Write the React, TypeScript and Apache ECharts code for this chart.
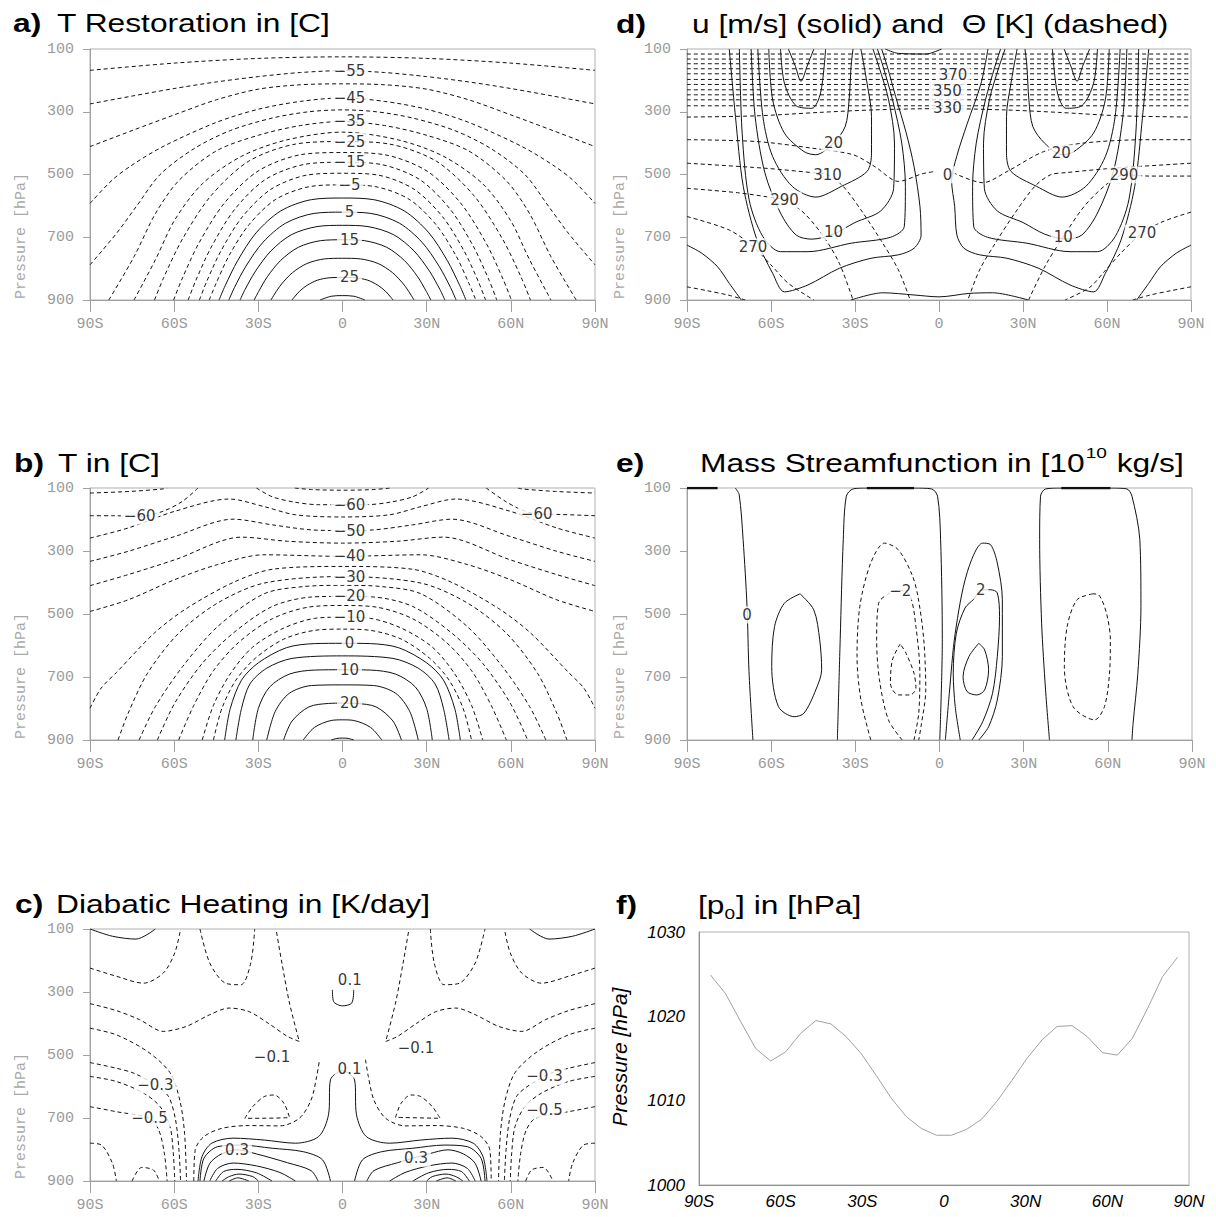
import React, { useEffect, useRef } from "react";
import * as echarts from "echarts";

type Pts = number[][];
type Contour = [number, Pts];
type Lbl = [string, number, number];

// ---------------- a) T restoration (value, [lat, hPa] points) ----------------
const A_CONTOURS: Contour[] = [
  [-60, [[-90,168],[-60,145],[-30,130],[0,125],[30,130],[60,145],[90,168]]],
  [-55, [[-90,275],[-75,250],[-60,226],[-45,205],[-30,188],[-15,175],[0,169],[15,175],[30,188],[45,205],[60,226],[75,250],[90,275]]],
  [-50, [[-90,411],[-75,360],[-60,310],[-45,262],[-30,228],[-15,214],[0,211],[15,214],[30,228],[45,262],[60,310],[75,360],[90,411]]],
  [-45, [[-90,592],[-82,517],[-75,470],[-64,411],[-45,334],[-30,292],[-15,267],[0,256],[15,267],[30,292],[45,334],[64,411],[75,470],[82,517],[90,592]]],
  [-40, [[-90,788],[-80.5,687],[-73.5,602],[-65,500],[-53,418],[-40,360],[-25,320],[-12,300],[0,294],[12,300],[25,320],[40,360],[53,418],[65,500],[73.5,602],[80.5,687],[90,788]]],
  [-35, [[-83.3,900],[-74.3,762],[-66.7,625],[-58.4,520],[-45,425],[-30,375],[-15,344],[0,331],[15,344],[30,375],[45,425],[58.4,520],[66.7,625],[74.3,762],[83.3,900]]],
  [-30, [[-74.3,900],[-66.7,772],[-59.8,645],[-50,530],[-36,442],[-20,390],[0,365],[20,390],[36,442],[50,530],[59.8,645],[66.7,772],[74.3,900]]],
  [-25, [[-67,900],[-63.7,828],[-57,705],[-46.9,568],[-33.5,458],[-16.75,403],[0,395],[16.75,403],[33.5,458],[46.9,568],[57,705],[63.7,828],[67,900]]],
  [-20, [[-60.2,900],[-57.2,833],[-51.2,719],[-42.1,591],[-30.1,489],[-15,437],[0,430],[15,437],[30.1,489],[42.1,591],[51.2,719],[57.2,833],[60.2,900]]],
  [-15, [[-55,900],[-52.25,837],[-46.75,731],[-38.5,612],[-27.5,516],[-13.75,468],[0,461],[13.75,468],[27.5,516],[38.5,612],[46.75,731],[52.25,837],[55,900]]],
  [-10, [[-51,900],[-48.45,842],[-43.35,744],[-35.7,635],[-25.5,547],[-12.75,502],[0,496],[12.75,502],[25.5,547],[35.7,635],[43.35,744],[48.45,842],[51,900]]],
  [-5, [[-47.5,900],[-45.1,848],[-40.4,758],[-33.25,659],[-23.75,579],[-11.9,539],[0,533],[11.9,539],[23.75,579],[33.25,659],[40.4,758],[45.1,848],[47.5,900]]],
  [0, [[-44,900],[-41.8,854],[-37.4,775],[-30.8,686],[-22,616],[-11,580],[0,575],[11,580],[22,616],[30.8,686],[37.4,775],[41.8,854],[44,900]]],
  [5, [[-40.5,900],[-38.5,860],[-34.4,792],[-28.35,716],[-20.25,655],[-10.1,624],[0,620],[10.1,624],[20.25,655],[28.35,716],[34.4,792],[38.5,860],[40.5,900]]],
  [10, [[-36.5,900],[-34.7,866],[-31,808],[-25.55,744],[-18.25,692],[-9.1,666],[0,662],[9.1,666],[18.25,692],[25.55,744],[31,808],[34.7,866],[36.5,900]]],
  [15, [[-31.5,900],[-29.9,873],[-26.8,826],[-22.05,774],[-15.75,732],[-7.9,711],[0,708],[7.9,711],[15.75,732],[22.05,774],[26.8,826],[29.9,873],[31.5,900]]],
  [20, [[-25.5,900],[-24.2,881],[-21.7,849],[-17.85,813],[-12.75,784],[-6.4,769],[0,767],[6.4,769],[12.75,784],[17.85,813],[21.7,849],[24.2,881],[25.5,900]]],
  [25, [[-18,900],[-17.1,890],[-15.3,872],[-12.6,853],[-9,837],[-4.5,829],[0,828],[4.5,829],[9,837],[12.6,853],[15.3,872],[17.1,890],[18,900]]],
  [30, [[-8,900],[-4,888],[0,886],[4,888],[8,900]]],
];
const A_LABELS: Lbl[] = [
  ["−55",2.5,170],["−45",2.5,256],["−35",2.5,331],["−25",2.5,395],["−15",2.5,461],
  ["−5",2.5,533],["5",2.5,620],["15",2.5,708],["25",2.5,828],
];

// ---------------- b) T ----------------
const B_CONTOURS: Contour[] = [
  [-65, [[-17,100],[-11,105],[0,107],[11,105],[17,100]]],
  [-65, [[-90,116],[-76,111],[-64,103],[-62.5,100]]],
  [-65, [[62.5,100],[64,103],[76,111],[90,116]]],
  [-60, [[-90,188],[-82,188],[-72,190],[-64,174],[-57,142],[-51.5,100]]],
  [-60, [[51.2,100],[58,142],[64,170],[69,182],[77.5,184],[90,188]]],
  [-60, [[-30.7,100],[-25,128],[-17,145],[-8.5,153],[0,153],[8.5,153],[17,145],[25,128],[30.7,100]]],
  [-55, [[-90,259],[-76.4,227],[-59.8,174],[-40.4,135],[-28,159],[-16.8,185],[0,192],[16.8,185],[28,159],[40.4,135],[59.8,174],[76.4,227],[90,259]]],
  [-50, [[-90,333],[-76.4,301],[-59.8,254],[-39,199],[-25,217],[-11,233],[0,235],[11,233],[25,217],[39,199],[59.8,254],[76.4,301],[90,333]]],
  [-45, [[-90,410],[-76.4,375],[-59.8,328],[-36,256],[-19.6,269],[0,275],[19.6,269],[36,256],[59.8,328],[76.4,375],[90,410]]],
  [-40, [[-90,492],[-76.4,455],[-59.8,391],[-44.5,343],[-28,312],[0,317],[28,312],[44.5,343],[59.8,391],[76.4,455],[90,492]]],
  [-35, [[-90,799],[-86,735],[-80.5,685],[-67,560],[-55.7,483],[-39,400],[-25,358],[0,349],[25,358],[39,400],[55.7,483],[67,560],[80.5,685],[86,735],[90,799]]],
  [-30, [[-80,900],[-76.4,815],[-69.5,688],[-58.4,561],[-44.5,465],[-28,402],[0,381],[28,402],[44.5,465],[58.4,561],[69.5,688],[76.4,815],[80,900]]],
  [-25, [[-72.5,900],[-66.7,794],[-57,667],[-44.5,540],[-28,436],[-14,413],[0,409],[14,413],[28,436],[44.5,540],[57,667],[66.7,794],[72.5,900]]],
  [-20, [[-66,900],[-59.8,783],[-50,657],[-39,561],[-25,476],[-11,446],[0,444],[11,446],[25,476],[39,561],[50,657],[59.8,783],[66,900]]],
  [-15, [[-58.4,900],[-53,790],[-46,680],[-37,590],[-25,515],[-12,478],[0,473],[12,478],[25,515],[37,590],[46,680],[53,790],[58.4,900]]],
  [-10, [[-50,900],[-46,790],[-40,690],[-32,605],[-21,545],[-10,514],[0,510],[10,514],[21,545],[32,605],[40,690],[46,790],[50,900]]],
  [-5, [[-46,900],[-43,800],[-38,710],[-31,640],[-21,580],[-10,552],[0,548],[10,552],[21,580],[31,640],[38,710],[43,800],[46,900]]],
  [0, [[-42,900],[-40,800],[-36,710],[-30,655],[-20,607],[-10,594],[0,593],[10,594],[20,607],[30,655],[36,710],[40,800],[42,900]]],
  [5, [[-38,900],[-36,800],[-33,722],[-27,672],[-18,641],[0,633],[18,641],[27,672],[33,722],[36,800],[38,900]]],
  [10, [[-32,900],[-30,800],[-26,732],[-19,691],[-10,678],[0,677],[10,678],[19,691],[26,732],[30,800],[32,900]]],
  [15, [[-27,900],[-24,810],[-19,752],[-11,727],[0,725],[11,727],[19,752],[24,810],[27,900]]],
  [20, [[-21,900],[-18,840],[-12,795],[-5,784],[0,783],[5,784],[12,795],[18,840],[21,900]]],
  [25, [[-14,900],[-10,860],[-4,838],[0,836],[4,838],[10,860],[14,900]]],
  [30, [[-4,900],[-2,895],[0,894],[2,895],[4,900]]],
];
const B_LABELS: Lbl[] = [
  ["−60",2.5,153],["−50",2.5,235],["−40",2.5,317],["−30",2.5,381],["−20",2.5,444],
  ["−10",2.5,510],["0",2.5,593],["10",2.5,677],["20",2.5,783],["−60",-72.3,190],["−60",69.2,182],
];

// ---------------- c) Diabatic heating ----------------
const C_SOLID: Pts[] = [
  [[-90,100],[-82,123],[-73.6,132],[-66.7,100]],
  [[66.7,100],[73.6,132],[82,123],[90,100]],
  [[-3.6,293],[-3.2,330],[0,344],[3.3,335],[4,293]],
  [[-51.5,900],[-50.1,823],[-46.6,780],[-39,764],[-27.9,770],[-16.8,780],[-8.5,759],[-5,690],[-4.3,579],[0,550],[4.3,579],[5,690],[8.5,759],[16.8,780],[27.9,770],[39,764],[46.6,780],[50.1,823],[51.5,900]],
  [[-50.8,900],[-49.4,828],[-44.5,791],[-36.2,786],[-25.1,796],[-14,807],[-7.1,833],[-4.3,900]],
  [[4.3,900],[7.1,833],[14,807],[25.1,796],[36.2,786],[44.5,791],[49.4,828],[50.8,900]],
  [[-49.4,900],[-47.3,844],[-43.1,814],[-37.6,801],[-30.7,814],[-19.6,842],[-11.2,867],[-8.7,900]],
  [[8.7,900],[11.2,867],[19.6,842],[30.7,814],[37.6,801],[43.1,814],[47.3,844],[49.4,900]],
  [[-47.3,900],[-44.5,860],[-39,843],[-30.7,852],[-22.3,873],[-16.8,900]],
  [[16.8,900],[22.3,873],[30.7,852],[39,843],[44.5,860],[47.3,900]],
  [[-45.2,900],[-42.4,870],[-37.6,863],[-30.7,874],[-25.1,900]],
  [[25.1,900],[30.7,874],[37.6,863],[42.4,870],[45.2,900]],
  [[-42.9,900],[-40.4,886],[-36.9,878],[-32,886],[-30,900]],
  [[30,900],[32,886],[36.9,878],[40.4,886],[42.9,900]],
  [[-40.4,900],[-37.3,890],[-33.4,900]],
  [[33.4,900],[37.3,890],[40.4,900]],
];
const C_DASHED: Pts[] = [
  [[-90,224],[-80.6,250],[-70.9,272],[-63.9,240],[-59.8,176],[-57.7,100]],
  [[90,224],[80.6,250],[70.9,272],[63.9,240],[59.8,176],[57.7,100]],
  [[-50.8,100],[-47.3,208],[-41.7,272],[-36.2,277],[-32.7,208],[-31.3,100]],
  [[31.3,100],[32.7,208],[36.2,277],[41.7,272],[47.3,208],[50.8,100]],
  [[-90,337],[-80.6,359],[-72.3,388],[-63.9,425],[-55.6,409],[-47.3,372],[-40.4,351],[-33.4,362],[-26.5,399],[-19.6,441],[-15.4,457],[-18.9,335],[-21.6,208],[-23.7,100]],
  [[90,337],[80.6,359],[72.3,388],[63.9,425],[55.6,409],[47.3,372],[40.4,351],[33.4,362],[26.5,399],[19.6,441],[15.4,457],[18.9,335],[21.6,208],[23.7,100]],
  [[-90,415],[-80.6,436],[-69.5,489],[-61.5,556],[-58,643],[-56.3,748],[-55.6,900]],
  [[90,415],[80.6,436],[69.5,489],[61.5,556],[58,643],[56.3,748],[55.6,900]],
  [[-90,524],[-80.6,542],[-74.3,558],[-66.7,595],[-62,632],[-59.5,706],[-58.3,801],[-57.7,900]],
  [[90,524],[80.6,542],[74.3,558],[66.7,595],[62,632],[59.5,706],[58.3,801],[57.7,900]],
  [[-90,568],[-80.6,584],[-70.9,621],[-65,664],[-61.5,727],[-60.3,812],[-59.8,900]],
  [[90,568],[80.6,584],[70.9,621],[65,664],[61.5,727],[60.3,812],[59.8,900]],
  [[-90,664],[-80.6,680],[-68.8,701],[-65.5,738],[-63.5,812],[-62.5,900]],
  [[90,664],[80.6,680],[68.8,701],[65.5,738],[63.5,812],[62.5,900]],
  [[-90,780],[-85.9,786],[-82,844],[-80.6,900]],
  [[90,780],[85.9,786],[82,844],[80.6,900]],
  [[-75,900],[-71.6,857],[-67.4,865],[-65.3,900]],
  [[65.3,900],[67.4,865],[71.6,857],[75,900]],
  [[-53,900],[-52.5,801],[-49.4,759],[-43.1,733],[-33.4,724],[-22.3,725],[-15.4,701],[-11.2,643],[-9.2,568],[-8.2,515]],
  [[8.2,515],[9.2,568],[11.2,643],[15.4,701],[22.3,725],[33.4,724],[43.1,733],[49.4,759],[52.5,801],[53,900]],
  [[-34.8,701],[-32,664],[-27.9,632],[-24.4,627],[-20.9,653],[-18.9,698],[-34.8,701]],
  [[18.9,698],[20.9,653],[24.4,627],[27.9,632],[32,664],[34.8,701],[18.9,698]],
];
const C_LABELS: Lbl[] = [
  ["0.1",2.6,261],["−0.1",-25.1,505],["−0.1",26.2,478],["0.1",2.5,545],["−0.3",-66.7,595],
  ["−0.3",72,568],["−0.5",-68.8,701],["−0.5",72,674],["0.3",-37.6,801],["0.3",26.2,828],
];

// ---------------- d) u (solid) and theta (dashed) ----------------
const D_THETA: Pts[] = [
  [[-90,116],[90,116]],
  [[-90,132],[90,132]],
  [[-90,147],[90,147]],
  [[-90,163],[90,163]],
  [[-90,179],[90,179]],
  [[-90,197],[90,197]],
  [[-90,213],[90,213]],
  [[-90,230],[90,230]],
  [[-90,246],[90,246]],
  [[-90,262],[90,262]],
  [[-90,281],[90,281]],
  [[-90,317],[-65,313],[-42.6,302],[-22.9,294],[0,290],[22.9,294],[42.6,302],[65,313],[90,317]],
  [[-90,389],[-65,395],[-45.4,416],[-30.7,437],[-22.9,475],[-14.5,522],[-6.1,498],[-1.9,491]],
  [[5,494],[15.6,526],[24.8,488],[37.4,427],[51.4,400],[75,389],[90,389]],
  [[-90,464],[-62.2,480],[-45.4,494],[-39.8,501],[-34.2,538],[-27.1,623],[-20.1,719],[-14.5,804],[-10.3,900]],
  [[90,464],[62.2,480],[45.4,494],[39.8,501],[34.2,538],[27.1,623],[20.1,719],[14.5,804],[10.3,900]],
  [[-90,544],[-72,558],[-60.8,572],[-55.2,581],[-48.2,623],[-41.2,698],[-35.6,783],[-30.7,900]],
  [[90,505],[75,505],[66.1,501],[60,530],[52,600],[45,690],[38,790],[32,900]],
  [[-90,634],[-74.9,677],[-66.4,730],[-59.4,794],[-53.8,847],[-44.7,900]],
  [[90,620],[80,650],[72.5,687],[65,750],[59,810],[53.8,860],[45,900]],
  [[-90,858],[-83,870],[-75,885],[-69.2,900]],
  [[90,858],[83,870],[75,885],[69.2,900]],
];
const D_WIND: Pts[] = [
  [[-74.9,100],[-72.7,315],[-69.9,538],[-65,709],[-59.4,815],[-55.2,874],[-46.8,852],[-35.6,799],[-24.3,767],[-14.5,756],[-8.9,735],[-6.4,693],[-6.8,602],[-8.9,475],[-11.7,368],[-15.5,251],[-18.5,155],[-20.5,100]],
  [[-71.3,100],[-70.3,368],[-67.8,581],[-62.9,698],[-56.6,746],[-46.8,746],[-31.4,719],[-17.3,700],[-12.4,666],[-12,538],[-13.3,400],[-16.6,262],[-20,155],[-22,100]],
  [[-67.1,100],[-65.7,313],[-62.2,494],[-56.6,623],[-51,693],[-45.4,706],[-37.7,690],[-30,653],[-20.8,616],[-16.2,544],[-15.9,400],[-18,262],[-21.5,155],[-23.6,100]],
  [[-64.7,100],[-62.9,315],[-59.4,443],[-52.4,538],[-44,572],[-34.9,538],[-25.7,490],[-24.1,432],[-24.1,315],[-25.7,209],[-27.9,100]],
  [[-60.8,100],[-59.4,262],[-55.2,368],[-48.2,427],[-44,437],[-37.7,400],[-33.5,347],[-32.1,262],[-31.4,155],[-30.7,100]],
  [[-56.6,100],[-55.2,209],[-51,281],[-45.4,289],[-42.3,240],[-40.5,100]],
  [[-53.8,100],[-51.3,155],[-49.3,203],[-47.1,155],[-44.7,100]],
  [[74.9,100],[72.7,315],[69.9,538],[65,709],[59.4,815],[55.2,874],[46.8,852],[35.6,799],[24.3,767],[14.5,756],[8.9,735],[6.4,693],[5.6,602],[4.5,520],[6.4,440],[10,340],[15,210],[17.5,100]],
  [[71.3,100],[70.3,368],[67.8,581],[62.9,698],[56.6,746],[46.8,746],[31.4,719],[17.3,700],[12.4,666],[12,538],[13.3,400],[16.6,262],[20,155],[22,100]],
  [[67.1,100],[65.7,313],[62.2,494],[56.6,623],[51,693],[45.4,706],[37.7,690],[30,653],[20.8,616],[16.2,544],[15.9,400],[18,262],[21.5,155],[23.6,100]],
  [[64.7,100],[62.9,315],[59.4,443],[52.4,538],[44,572],[34.9,538],[25.7,490],[24.1,432],[24.1,315],[25.7,209],[27.9,100]],
  [[60.8,100],[59.4,262],[55.2,368],[48.2,427],[44,437],[37.7,400],[33.5,347],[32.1,262],[31.4,155],[30.7,100]],
  [[56.6,100],[55.2,209],[51,281],[45.4,289],[42.3,240],[40.5,100]],
  [[53.8,100],[51.3,155],[49.3,203],[47.1,155],[44.7,100]],
  [[-90,725],[-84.7,751],[-79.1,794],[-74.9,847],[-70.6,900]],
  [[90,725],[84.7,751],[79.1,794],[74.9,847],[70.6,900]],
  [[-31.4,900],[-20.1,877],[-8.9,884],[0,890],[10.7,879],[19.1,877],[31.8,900]],
  [[-19.2,100],[-14.5,114],[-4.7,116],[0.9,100]],
];
const D_LABELS: Lbl[] = [
  ["370",5,182],["350",3,235],["330",3,288],["20",-37.7,400],["310",-39.8,501],["0",3,501],
  ["290",-55.2,581],["10",-37.7,682],["270",-66.4,730],["20",43.7,432],["290",66.1,501],
  ["10",44.4,698],["270",72.5,687],
];

// ---------------- e) Mass streamfunction ----------------
const E_SOLID: Pts[] = [
  [[-72.8,100],[-71.4,121],[-70,264],[-68.6,477],[-67.9,683],[-66.5,900]],
  [[-49.7,436],[-55.3,466],[-58.8,540],[-59.8,667],[-57.4,794],[-51.8,826],[-48.3,815],[-44.1,741],[-42,677],[-42.7,582],[-44.8,487],[-49.7,436]],
  [[-36.4,900],[-35.4,582],[-34.3,264],[-33.2,126],[-30.8,103],[-25.9,100],[-9.1,100],[-2.8,103],[-0.7,126],[0.4,264],[1,582],[0.1,900]],
  [[2.1,900],[3.5,752],[5.6,561],[9.8,370],[15.4,275],[18.2,280],[20.6,338],[22.4,455],[22.4,635],[20.6,773],[17.5,858],[14,900]],
  [[7.4,900],[5.6,794],[4.9,688],[6,561],[9.1,481],[12.2,453],[14.7,425],[18.2,423],[20.6,433],[21.4,508],[20.6,635],[18.9,752],[15.4,842],[11.6,900]],
  [[14,593],[10.5,635],[8.4,699],[9.8,746],[13.3,757],[16.1,741],[17.5,677],[16.1,614],[14,593]],
  [[39.2,900],[37.8,741],[36.4,529],[35.7,264],[36,126],[37.8,103],[43.4,100],[60.9,100],[66.8,103],[68.6,126],[71.4,264],[71.8,476],[70.7,688],[69,847],[68.6,900]],
];
const E_TOP: Pts[] = [
  [[-90,100],[-79.1,100]],
  [[-25.9,100],[-9.1,100]],
  [[43.4,100],[60.9,100]],
];
const E_DASHED: Pts[] = [
  [[-24.5,900],[-28,773],[-29.4,635],[-28.4,476],[-24.5,338],[-19.6,275],[-14.7,296],[-9.8,375],[-7.7,444],[-5.6,582],[-4.9,741],[-6.6,858],[-7.4,900]],
  [[-13.3,900],[-18.2,836],[-21.4,709],[-22.4,582],[-21.7,466],[-17.5,432],[-14,425],[-10.5,442],[-8.4,540],[-7,688],[-7.4,815],[-9.1,900]],
  [[-14,595],[-16.8,646],[-17.5,720],[-14.7,757],[-10.5,757],[-8.4,736],[-9.1,688],[-11.9,625],[-14,595]],
  [[54.6,436],[49,455],[45.5,540],[44.5,667],[47.6,794],[55.3,836],[58.8,794],[60.6,688],[60.9,582],[59.5,497],[56.7,439],[54.6,436]],
];
const E_LABELS: Lbl[] = [["0",-68.6,503],["−2",-14,428],["2",14.7,425]];

// ---------------- f) surface pressure ----------------
const F_LAT = [-85.76,-80.27,-74.74,-69.21,-63.67,-58.14,-52.6,-47.06,-41.53,-35.99,-30.45,-24.92,-19.38,-13.84,-8.31,-2.77,2.77,8.31,13.84,19.38,24.92,30.45,35.99,41.53,47.06,52.6,58.14,63.67,69.21,74.74,80.27,85.76];
const F_P0 = [1024.9,1022.7,1019.4,1016.2,1014.7,1015.8,1018.0,1019.5,1019.1,1017.6,1015.6,1013.0,1010.3,1008.1,1006.7,1005.9,1005.9,1006.6,1007.8,1009.9,1012.4,1015.0,1017.2,1018.8,1018.9,1017.6,1015.7,1015.4,1017.4,1020.9,1024.7,1027.0];

// ---------------- helpers ----------------
const GREY = "#9a9a9a";
const MONO = "Liberation Mono";
const SANS = "Liberation Sans";

function latLabel(v: number): string {
  return v < 0 ? `${-v}S` : v > 0 ? `${v}N` : "0";
}

function lineSeries(gi: number, pts: Pts, dashed: boolean, width = 1) {
  return {
    type: "line",
    xAxisIndex: gi,
    yAxisIndex: gi,
    data: pts,
    symbol: "none",
    showSymbol: false,
    smooth: 0.3,
    silent: true,
    z: 2,
    lineStyle: { color: "#111", width, type: dashed ? [4, 3] : "solid" },
  };
}

function labelSeries(gi: number, labels: Lbl[]) {
  return {
    type: "scatter",
    xAxisIndex: gi,
    yAxisIndex: gi,
    symbolSize: 1,
    silent: true,
    z: 6,
    itemStyle: { color: "rgba(0,0,0,0)" },
    data: labels.map(([t, x, y]) => ({ name: t, value: [x, y] })),
    label: {
      show: true,
      position: "inside",
      formatter: "{b}",
      color: "#000",
      fontFamily: "DejaVu Sans",
      fontSize: 15,
      backgroundColor: "#fff",
      padding: [1, 3],
    },
  };
}

function measure(text: string, font: string): number {
  try {
    const t = new (echarts.graphic as any).Text({ style: { text, font } });
    return t.getBoundingRect().width;
  } catch (e) {
    return text.length * 12;
  }
}

function buildOption() {
  const gridPos = [
    { left: 90, top: 49, width: 505, height: 251 },
    { left: 90, top: 488, width: 505, height: 252 },
    { left: 90, top: 929, width: 505, height: 252 },
    { left: 687, top: 49, width: 504, height: 251 },
    { left: 687, top: 488, width: 505, height: 252 },
    { left: 699, top: 932, width: 490, height: 253 },
  ];
  const grid = gridPos.map((g) => ({
    ...g,
    show: true,
    borderColor: "#b0b0b0",
    borderWidth: 1,
    backgroundColor: "transparent",
    outerBoundsMode: "none",
  }));

  const xAxis: any[] = [];
  const yAxis: any[] = [];
  for (let gi = 0; gi < 5; gi++) {
    xAxis.push({
      gridIndex: gi,
      type: "value",
      min: -90,
      max: 90,
      interval: 30,
      axisLine: { show: true, onZero: false, lineStyle: { color: "#a0a0a0" } },
      axisTick: { show: true, length: 12, lineStyle: { color: "#a0a0a0" } },
      axisLabel: { formatter: latLabel, color: GREY, fontFamily: MONO, fontSize: 15, margin: 17 },
      splitLine: { show: false },
    });
    yAxis.push({
      gridIndex: gi,
      type: "value",
      inverse: true,
      min: 100,
      max: 900,
      interval: 200,
      axisLine: { show: true, onZero: false, lineStyle: { color: "#a0a0a0" } },
      axisTick: { show: true, length: 7, lineStyle: { color: "#a0a0a0" } },
      axisLabel: { color: GREY, fontFamily: MONO, fontSize: 15, margin: 16 },
      splitLine: { show: false },
    });
  }
  xAxis.push({
    gridIndex: 5,
    type: "value",
    min: -90,
    max: 90,
    interval: 30,
    axisLine: { show: true, onZero: false, lineStyle: { color: "#909090" } },
    axisTick: { show: false },
    axisLabel: { formatter: latLabel, color: "#000", fontFamily: SANS, fontStyle: "italic", fontSize: 17, margin: 8 },
    splitLine: { show: false },
  });
  yAxis.push({
    gridIndex: 5,
    type: "value",
    min: 1000,
    max: 1030,
    interval: 10,
    axisLine: { show: true, onZero: false, lineStyle: { color: "#909090" } },
    axisTick: { show: false },
    axisLabel: {
      formatter: (v: number) => String(v),
      color: "#000",
      fontFamily: SANS,
      fontStyle: "italic",
      fontSize: 17,
      margin: 14,
    },
    splitLine: { show: false },
  });

  const series: any[] = [];
  A_CONTOURS.forEach(([v, pts]) => series.push(lineSeries(0, pts, v < 0)));
  series.push(labelSeries(0, A_LABELS));
  B_CONTOURS.forEach(([v, pts]) => series.push(lineSeries(1, pts, v < 0)));
  series.push(labelSeries(1, B_LABELS));
  C_SOLID.forEach((pts) => series.push(lineSeries(2, pts, false)));
  C_DASHED.forEach((pts) => series.push(lineSeries(2, pts, true)));
  series.push(labelSeries(2, C_LABELS));
  D_THETA.forEach((pts) => series.push(lineSeries(3, pts, true)));
  D_WIND.forEach((pts) => series.push(lineSeries(3, pts, false)));
  series.push(labelSeries(3, D_LABELS));
  E_SOLID.forEach((pts) => series.push(lineSeries(4, pts, false)));
  E_TOP.forEach((pts) => series.push(lineSeries(4, pts, false, 2.5)));
  E_DASHED.forEach((pts) => series.push(lineSeries(4, pts, true)));
  series.push(labelSeries(4, E_LABELS));
  series.push({
    type: "line",
    xAxisIndex: 5,
    yAxisIndex: 5,
    data: F_LAT.map((l, i) => [l, F_P0[i]]),
    symbol: "none",
    showSymbol: false,
    silent: true,
    lineStyle: { color: "#a0a0a0", width: 1 },
  });

  // titles and axis names
  const S = 1.27;
  const reg = `25px "${SANS}"`;
  const bold = `bold 25px "${SANS}"`;
  const small = `15px "${SANS}"`;
  const txt = (x: number, y: number, text: string, font: string, sx = S) => ({
    type: "text",
    x,
    y,
    scaleX: sx,
    silent: true,
    style: {
      text,
      font,
      fill: "#000",
      textAlign: "left",
      textVerticalAlign: "middle",
      align: "left",
      verticalAlign: "middle",
    },
  });
  const g: any[] = [];
  g.push(txt(13, 23, "a)", bold), txt(57, 23, "T Restoration in [C]", reg));
  g.push(txt(14, 463, "b)", bold), txt(58, 463, "T in [C]", reg));
  g.push(txt(15, 904, "c)", bold), txt(56, 904, "Diabatic Heating in [K/day]", reg));
  g.push(txt(616, 24, "d)", bold), txt(692, 24, "u [m/s] (solid) and  Θ [K] (dashed)", reg));
  g.push(txt(616, 463, "e)", bold));
  let x = 700;
  const e1 = "Mass Streamfunction in [10";
  g.push(txt(x, 463, e1, reg));
  x += measure(e1, reg) * S + 1;
  g.push(txt(x, 453, "10", small));
  x += measure("10", small) * S + measure(" ", reg) * S + 1;
  g.push(txt(x, 463, "kg/s]", reg));
  g.push(txt(616, 905, "f)", bold));
  x = 698;
  g.push(txt(x, 905, "[p", reg));
  x += measure("[p", reg) * S;
  g.push(txt(x, 914, "0", small));
  x += measure("0", small) * S + 1;
  g.push(txt(x, 905, "] in [hPa]", reg));

  const yName = (cx: number, cy: number) => ({
    type: "text",
    x: cx,
    y: cy,
    rotation: Math.PI / 2,
    silent: true,
    style: {
      text: "Pressure [hPa]",
      font: `15px "${MONO}"`,
      fill: "#a8a8a8",
      textAlign: "center",
      textVerticalAlign: "middle",
      align: "center",
      verticalAlign: "middle",
    },
  });
  g.push(yName(21, 236), yName(21, 676), yName(21, 1116), yName(620, 236), yName(620, 676));
  g.push({
    type: "text",
    x: 619,
    y: 1057,
    rotation: Math.PI / 2,
    silent: true,
    style: {
      text: "Pressure [hPa]",
      font: `italic 21px "${SANS}"`,
      fill: "#000",
      textAlign: "center",
      textVerticalAlign: "middle",
      align: "center",
      verticalAlign: "middle",
    },
  });

  return {
    animation: false,
    backgroundColor: "#fff",
    grid,
    xAxis,
    yAxis,
    series,
    graphic: { elements: g },
  };
}

export default function App() {
  const ref = useRef<HTMLDivElement>(null);
  useEffect(() => {
    if (!ref.current) return;
    const chart = echarts.init(ref.current, null, { renderer: "svg" });
    chart.setOption(buildOption() as any);
    return () => chart.dispose();
  }, []);
  return (
    <div
      ref={ref}
      style={{ position: "absolute", left: 0, top: 0, width: 1216, height: 1217, background: "#fff" }}
    />
  );
}
